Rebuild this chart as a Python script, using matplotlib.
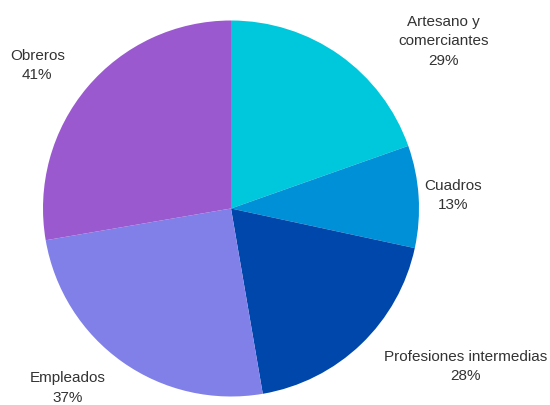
import matplotlib
matplotlib.use("Agg")
import matplotlib.pyplot as plt

plt.rcParams['font.family'] = ['Liberation Sans', 'DejaVu Sans']

categories = ["Artesano y\ncomerciantes", "Cuadros", "Profesiones intermedias", "Empleados", "Obreros"]
values = [29, 13, 28, 37, 41]
colors = ["#00c8dc", "#0090d8", "#0047ab", "#8080e8", "#9b59cf"]
# label centres, in units of the pie radius
label_pos = [(1.13, 0.89), (1.18, 0.07), (1.25, -0.84), (-0.87, -0.955), (-1.03, 0.76)]

W, H = 550, 405
cx, cy, r = 231, 208.5, 188

fig = plt.figure(figsize=(W / 100, H / 100), dpi=100)
ax = fig.add_axes([(cx - r) / W, 1 - (cy + r) / H, 2 * r / W, 2 * r / H])

wedges, _ = ax.pie(values, colors=colors, startangle=90, counterclock=False,
                   radius=1, wedgeprops=dict(linewidth=0))
ax.set_xlim(-1, 1)
ax.set_ylim(-1, 1)
ax.set_aspect("equal")
ax.axis("off")

for name, v, (x, y) in zip(categories, values, label_pos):
    ax.text(x, y, f"{name}\n{v}%", ha="center", va="center", fontsize=11,
            color="#333333", linespacing=1.5, clip_on=False)

fig.savefig("out.png", dpi=100)
